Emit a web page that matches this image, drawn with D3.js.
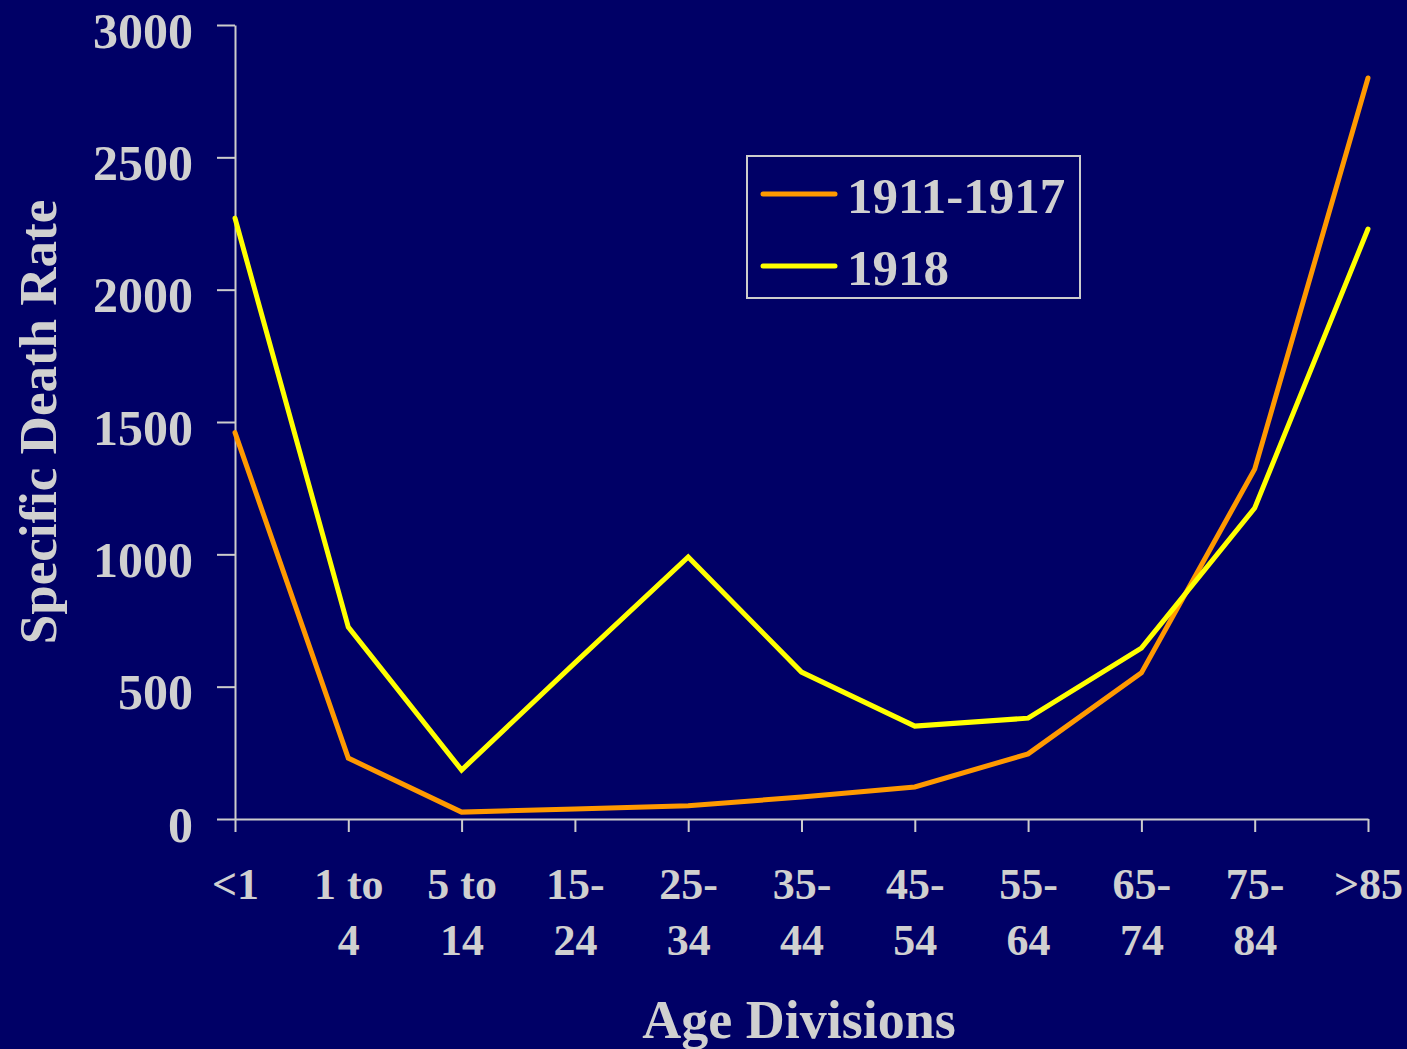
<!DOCTYPE html>
<html lang="en">
<head>
  <meta charset="UTF-8">
  <script src="https://cdn.jsdelivr.net/npm/d3@7"></script>
  <title>Specific Death Rate by Age</title>
  <style>
    body { margin: 0; background: #000066; }
    svg { display: block; }
    text { font-family: 'Liberation Serif', 'Times New Roman', serif; font-weight: bold; fill: #d0d0d0; }
    .axis .domain, .axis .tick line { stroke: #cccccc; stroke-width: 2; }
    .axis text { fill: #d0d0d0; }
  </style>
</head>
<body>
<script>
  // age groups (x axis), each label split on two lines like the original
  const ageLabels = [["<1"], ["1 to", "4"], ["5 to", "14"], ["15-", "24"], ["25-", "34"], ["35-", "44"],
    ["45-", "54"], ["55-", "64"], ["65-", "74"], ["75-", "84"], [">85"]];
  const ages = ageLabels.map(d => d.join(" "));

  // death rates
  const rate1911 = [1460, 230, 26, 38, 50, 83, 121, 246, 552, 1322, 2800];
  const rate1918 = [2270, 725, 185, 590, 990, 555, 351, 381, 646, 1175, 2229];

  const seriesNames = ["1911-1917", "1918"];
  const seriesColors = ["#ff9900", "#ffff00"];
  const yTicks = [0, 500, 1000, 1500, 2000, 2500, 3000];

  const width = 1407, height = 1049;
  const plotLeft = 235, plotRight = 1368, plotTop = 25, plotBottom = 819;

  const svg = d3.select("body").append("svg").attr("width", width).attr("height", height);
  svg.append("rect").attr("width", width).attr("height", height).attr("fill", "#000066");

  const x = d3.scalePoint().domain(ages).range([plotLeft, plotRight]);
  const y = d3.scaleLinear().domain([0, 3000]).range([plotBottom, plotTop]);

  // y axis
  const yAxis = svg.append("g").attr("class", "axis")
    .attr("transform", `translate(${plotLeft},0)`)
    .call(d3.axisLeft(y).tickValues(yTicks).tickFormat(d3.format("d"))
      .tickSize(18).tickSizeOuter(0).tickPadding(24));
  yAxis.selectAll(".tick text")
    .attr("font-size", 50).attr("dy", null).attr("y", 22);

  // x axis
  const xAxis = svg.append("g").attr("class", "axis")
    .attr("transform", `translate(0,${plotBottom})`)
    .call(d3.axisBottom(x).tickSize(13).tickSizeOuter(0).tickFormat(""));
  xAxis.selectAll(".tick").each(function (d, i) {
    const t = d3.select(this).append("text")
      .attr("text-anchor", "middle").attr("font-size", 44);
    ageLabels[i].forEach((line, j) => {
      t.append("tspan").attr("x", 0).attr("y", 80 + j * 56).text(line);
    });
  });

  // lines
  const line = d3.line().x((d, i) => x(ages[i])).y(d => y(d));
  [rate1911, rate1918].forEach((s, k) => {
    svg.append("path").datum(s)
      .attr("d", line)
      .attr("fill", "none")
      .attr("stroke", seriesColors[k])
      .attr("stroke-width", 5)
      .attr("stroke-linejoin", "miter")
      .attr("stroke-linecap", "round");
  });

  // legend
  const legend = svg.append("g").attr("transform", "translate(747,156)");
  legend.append("rect").attr("width", 333).attr("height", 142)
    .attr("fill", "none").attr("stroke", "#cccccc").attr("stroke-width", 2);
  seriesNames.forEach((name, k) => {
    const g = legend.append("g").attr("transform", `translate(0,${38 + k * 72})`);
    g.append("line").attr("x1", 16).attr("x2", 88)
      .attr("stroke", seriesColors[k]).attr("stroke-width", 5).attr("stroke-linecap", "round");
    g.append("text").attr("x", 100).attr("y", 19).attr("font-size", 51).text(name);
  });

  // axis titles
  svg.append("text").attr("x", 799).attr("y", 1038)
    .attr("text-anchor", "middle").attr("font-size", 54).text("Age Divisions");
  svg.append("text")
    .attr("transform", `translate(56,${422}) rotate(-90)`)
    .attr("text-anchor", "middle").attr("font-size", 53).text("Specific Death Rate");
</script>
</body>
</html>
